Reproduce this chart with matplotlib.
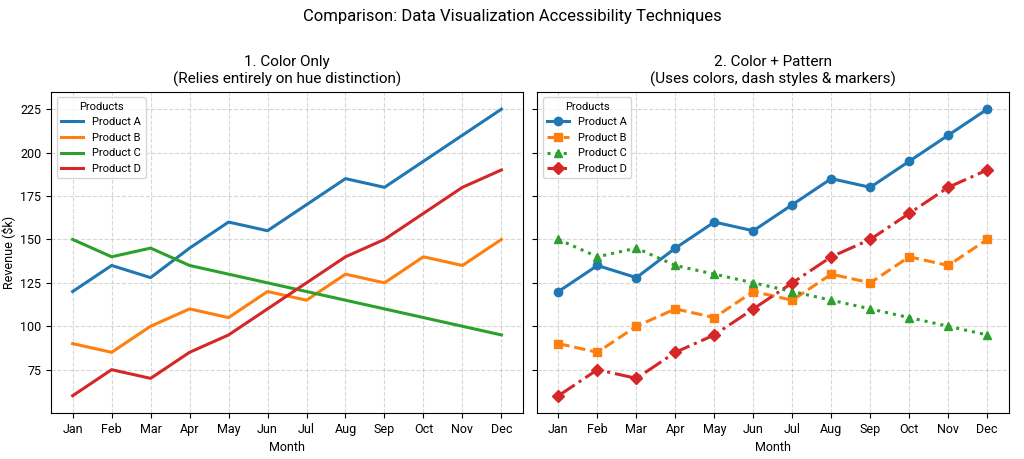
import matplotlib
matplotlib.use("Agg")
import matplotlib.pyplot as plt

plt.rcParams['font.family'] = ['Roboto', 'DejaVu Sans']

months = ["Jan", "Feb", "Mar", "Apr", "May", "Jun", "Jul", "Aug", "Sep", "Oct", "Nov", "Dec"]
product_a = [120, 135, 128, 145, 160, 155, 170, 185, 180, 195, 210, 225]
product_b = [90, 85, 100, 110, 105, 120, 115, 130, 125, 140, 135, 150]
product_c = [150, 140, 145, 135, 130, 125, 120, 115, 110, 105, 100, 95]
product_d = [60, 75, 70, 85, 95, 110, 125, 140, 150, 165, 180, 190]

names = ["Product A", "Product B", "Product C", "Product D"]
series = [product_a, product_b, product_c, product_d]
colors = ["#1f77b4", "#ff7f0e", "#2ca02c", "#d62728"]
styles = ["-", "--", ":", "-."]
markers = ["o", "s", "^", "D"]

fig, (ax1, ax2) = plt.subplots(1, 2, figsize=(10.24, 4.59), dpi=100, sharey=True)

for name, vals, c in zip(names, series, colors):
    ax1.plot(months, vals, color=c, lw=2.2, label=name)
for name, vals, c, ls, m in zip(names, series, colors, styles, markers):
    ax2.plot(months, vals, color=c, lw=2.2, ls=ls, marker=m, ms=6, label=name)

ax1.set_title("1. Color Only\n(Relies entirely on hue distinction)", fontsize=11)
ax2.set_title("2. Color + Pattern\n(Uses colors, dash styles & markers)", fontsize=11)
ax1.set_ylabel("Revenue ($k)", fontsize=9)
for ax in (ax1, ax2):
    ax.set_xlabel("Month", fontsize=9)
    ax.grid(True, ls="--", alpha=0.5)
    ax.tick_params(labelsize=9)
    ax.legend(title="Products", loc="upper left", fontsize=8, title_fontsize=8)
ax1.set_ylim(50, 235)
ax1.set_yticks([75, 100, 125, 150, 175, 200, 225])

fig.suptitle("Comparison: Data Visualization Accessibility Techniques", fontsize=12)
fig.subplots_adjust(left=0.05, right=0.985, top=0.8, bottom=0.1, wspace=0.03)
fig.savefig("out.png", dpi=100)
